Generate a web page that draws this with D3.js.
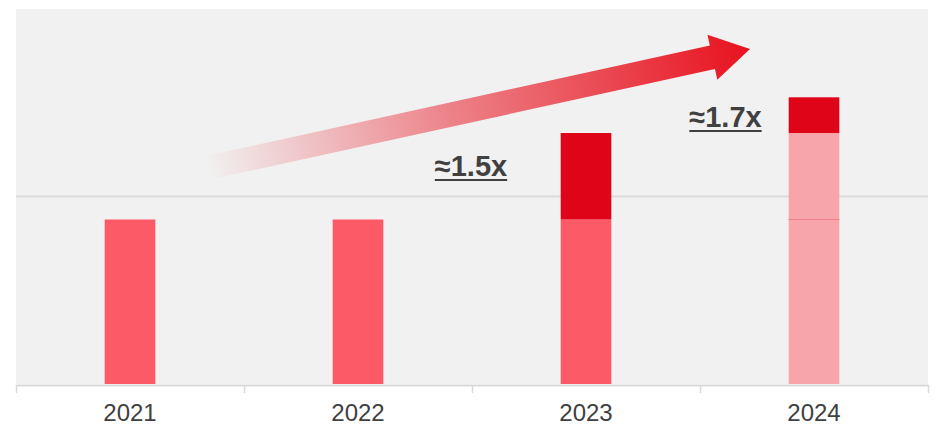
<!DOCTYPE html>
<html>
<head>
<meta charset="utf-8">
<script src="https://cdn.jsdelivr.net/npm/d3@7"></script>
<style>
  html, body { margin: 0; padding: 0; background: #ffffff; }
  svg { display: block; font-family: "Liberation Sans", Arial, sans-serif; }
</style>
</head>
<body>
<svg id="chart" width="936" height="434"></svg>
<script>
// Categories and stacked values (base level, growth by 2023, further growth by 2024)
const years = ["2021", "2022", "2023", "2024"];
const baseValues = [35, 35, 35, 35];
const growth2023 = [0, 0, 18.4, 18.4];
const growth2024 = [0, 0, 0, 7.6];
const gridValues = [40];
const ratioLabels = [
  { year: "2023", text: "≈1.5x" },
  { year: "2024", text: "≈1.7x" }
];

const svg = d3.select("#chart");
const plotLeft = 16, plotRight = 928, plotTop = 8, plotBottom = 384;

const x = d3.scaleBand().domain(years).range([plotLeft, plotRight]).padding(0);
const y = d3.scaleLinear().domain([0, 80]).range([plotBottom, plotTop]);
const barW = x.bandwidth() * 0.222;
const barX = d => x(d) + (x.bandwidth() - barW) / 2;

// plot panel
svg.append("rect")
  .attr("x", plotLeft).attr("y", plotTop + 1)
  .attr("width", plotRight - plotLeft).attr("height", plotBottom - plotTop - 1)
  .attr("fill", "#f1f1f1");

// horizontal gridline
const grid = svg.append("g")
  .attr("transform", `translate(${plotLeft},0)`)
  .call(d3.axisLeft(y).tickValues(gridValues).tickSize(-(plotRight - plotLeft)).tickFormat(""));
grid.select(".domain").remove();
grid.selectAll(".tick line").attr("stroke", "#dcdcdc").attr("stroke-width", 2);

// growth arrow with a fading red gradient
const defs = svg.append("defs");
const start = [207, 168], tip = [750, 49];
const dx = tip[0] - start[0], dy = tip[1] - start[1];
const len = Math.hypot(dx, dy);
const ang = Math.atan2(dy, dx) * 180 / Math.PI;
const grad = defs.append("linearGradient")
  .attr("id", "arrowFade")
  .attr("gradientUnits", "userSpaceOnUse")
  .attr("x1", 0).attr("y1", 0).attr("x2", len).attr("y2", 0);
grad.append("stop").attr("offset", 0).attr("stop-color", "#e8121f").attr("stop-opacity", 0);
grad.append("stop").attr("offset", 0.45).attr("stop-color", "#e8121f").attr("stop-opacity", 0.5);
grad.append("stop").attr("offset", 1).attr("stop-color", "#e8121f").attr("stop-opacity", 1);

const headLen = 38.5, shaftHalf = 12, headHalf = 23;
const arrowPts = [
  [0, -shaftHalf], [len - headLen, -shaftHalf], [len - headLen, -headHalf],
  [len, 0],
  [len - headLen, headHalf], [len - headLen, shaftHalf], [0, shaftHalf]
];
svg.append("path")
  .attr("transform", `translate(${start[0]},${start[1]}) rotate(${ang})`)
  .attr("d", d3.line()(arrowPts) + "Z")
  .attr("fill", "url(#arrowFade)");

// bars: base level
const baseColor = d => d === "2024" ? "#f7a5ab" : "#fc5a66";
svg.append("g").selectAll("rect")
  .data(years)
  .join("rect")
  .attr("x", d => barX(d))
  .attr("width", barW)
  .attr("y", (d, i) => y(baseValues[i]))
  .attr("height", (d, i) => y(0) - y(baseValues[i]))
  .attr("fill", baseColor);

// bars: growth reached in 2023
svg.append("g").selectAll("rect")
  .data(years.filter((d, i) => growth2023[i] > 0))
  .join("rect")
  .attr("x", d => barX(d))
  .attr("width", barW)
  .attr("y", d => { const i = years.indexOf(d); return y(baseValues[i] + growth2023[i]); })
  .attr("height", d => { const i = years.indexOf(d); return y(baseValues[i]) - y(baseValues[i] + growth2023[i]); })
  .attr("fill", d => d === "2024" ? "#f7a5ab" : "#df0417");

// thin divider between stacked pink segments
svg.append("g").selectAll("line")
  .data(years.filter((d, i) => growth2023[i] > 0 && growth2024[i] > 0))
  .join("line")
  .attr("x1", d => barX(d)).attr("x2", d => barX(d) + barW)
  .attr("y1", d => y(baseValues[years.indexOf(d)]))
  .attr("y2", d => y(baseValues[years.indexOf(d)]))
  .attr("stroke", "#f0808a").attr("stroke-width", 1);

// bars: additional growth in 2024
svg.append("g").selectAll("rect")
  .data(years.filter((d, i) => growth2024[i] > 0))
  .join("rect")
  .attr("x", d => barX(d))
  .attr("width", barW)
  .attr("y", d => { const i = years.indexOf(d); return y(baseValues[i] + growth2023[i] + growth2024[i]); })
  .attr("height", d => { const i = years.indexOf(d); return y(baseValues[i] + growth2023[i]) - y(baseValues[i] + growth2023[i] + growth2024[i]); })
  .attr("fill", "#df0417");

// category axis: boundary ticks
const bounds = d3.scaleLinear().domain([0, years.length]).range([plotLeft, plotRight]);
const tickAxis = svg.append("g")
  .attr("transform", `translate(0,${plotBottom + 1})`)
  .call(d3.axisBottom(bounds).tickValues(d3.range(years.length + 1)).tickSize(8).tickSizeOuter(0).tickFormat(""));
tickAxis.select(".domain").attr("stroke", "#d9d9d9").attr("stroke-width", 2);
tickAxis.selectAll(".tick line").attr("stroke", "#d9d9d9").attr("stroke-width", 1.5);

// category axis: year labels
const labelAxis = svg.append("g")
  .attr("transform", `translate(0,${plotBottom + 1})`)
  .call(d3.axisBottom(x).tickSize(0).tickPadding(19));
labelAxis.select(".domain").remove();
labelAxis.selectAll("text")
  .attr("font-size", 24)
  .attr("font-family", "'Liberation Sans', Arial, sans-serif")
  .attr("fill", "#404040");

// ratio annotations (bold, underlined)
const labelPos = { "2023": [471, 176], "2024": [725.5, 127] };
ratioLabels.forEach(l => {
  const [cx, by] = labelPos[l.year];
  const t = svg.append("text")
    .attr("x", cx).attr("y", by)
    .attr("text-anchor", "middle")
    .attr("font-size", 29)
    .attr("font-weight", "bold")
    .attr("fill", "#404040")
    .text(l.text);
  const w = t.node().getComputedTextLength();
  svg.append("line")
    .attr("x1", cx - w / 2).attr("x2", cx + w / 2)
    .attr("y1", by + 4).attr("y2", by + 4)
    .attr("stroke", "#404040").attr("stroke-width", 2);
});
</script>
</body>
</html>
